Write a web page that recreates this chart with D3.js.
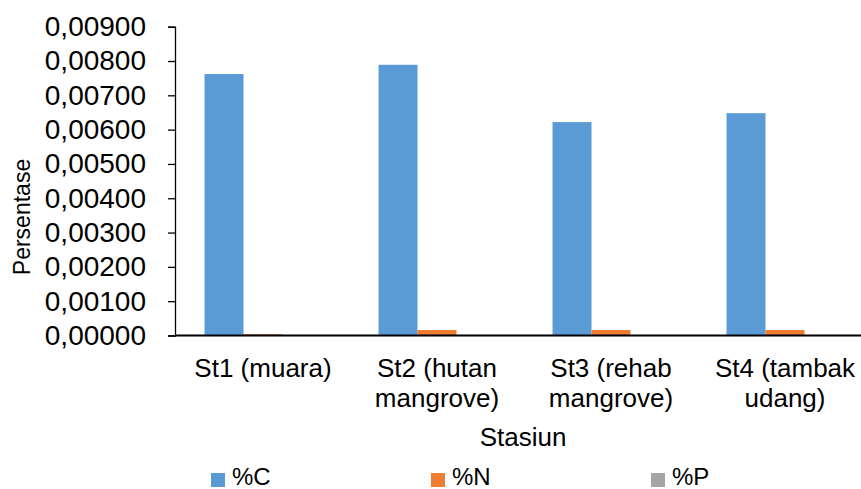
<!DOCTYPE html>
<html><head><meta charset="utf-8">
<script src="https://cdn.jsdelivr.net/npm/d3@7"></script>
<style>body{margin:0;background:#fff}svg{display:block;font-family:"Liberation Sans",Arial,sans-serif}</style>
</head><body><svg id="c" width="861" height="489"></svg>
<script>
const categories = [["St1 (muara)"], ["St2 (hutan", "mangrove)"], ["St3 (rehab", "mangrove)"], ["St4 (tambak", "udang)"]];
const seriesNames = ["%C", "%N", "%P"];
const valuesC = [0.00762, 0.00789, 0.00622, 0.00648];
const valuesN = [0.00004, 0.00016, 0.00016, 0.00016];
const valuesP = [0, 0, 0, 0];
const yTicks = [0, 0.001, 0.002, 0.003, 0.004, 0.005, 0.006, 0.007, 0.008, 0.009];
const colors = ["#5B9BD5", "#ED7D31", "#A5A5A5"];

(function () {
const svg = d3.select("#c");
const mLeft = 175, mRight = 871, mTop = 26.7, mBottom = 335.5;
const keys = categories.map((c, i) => i);
const x0 = d3.scaleBand().domain(keys).range([mLeft + 1, mRight + 1]).paddingInner(0.328).paddingOuter(0.164);
const x1 = d3.scaleBand().domain(seriesNames).range([0, x0.bandwidth()]);
const y = d3.scaleLinear().domain([0, 0.009]).range([mBottom, mTop]);
const series = [valuesC, valuesN, valuesP];

const g = svg.append("g");
seriesNames.forEach((s, si) => {
  g.selectAll(null).data(series[si]).enter().append("rect")
    .attr("x", (d, i) => x0(i) + x1(s))
    .attr("width", x1.bandwidth())
    .attr("y", d => y(d))
    .attr("height", d => y(0) - y(d))
    .attr("fill", colors[si]);
});

const yAxis = d3.axisLeft(y).tickValues(yTicks).tickSize(7).tickPadding(22)
  .tickFormat(d => d3.format(".5f")(d).replace(".", ","));
const ya = svg.append("g").attr("transform", `translate(${mLeft},0)`).call(yAxis);
ya.select(".domain").attr("stroke", "#000").attr("stroke-width", 1.3);
ya.selectAll(".tick line").attr("stroke", "#000").attr("stroke-width", 1.3);
ya.selectAll(".tick text").attr("font-size", 28).attr("fill", "#000").attr("font-family", "Liberation Sans, Arial, sans-serif");

const xAxis = d3.axisBottom(x0).tickSize(0).tickFormat("");
const xa = svg.append("g").attr("transform", `translate(0,${mBottom})`).call(xAxis);
xa.select(".domain").attr("d", `M${mLeft},0H861`).attr("stroke", "#000").attr("stroke-width", 2.2);

keys.forEach(i => {
  const cx = x0(i) + x0.bandwidth() / 2;
  const t = svg.append("text").attr("text-anchor", "middle").attr("font-size", 26).attr("fill", "#000")
    .attr("x", cx).attr("y", 377);
  categories[i].forEach((line, li) => t.append("tspan").attr("x", cx).attr("dy", li ? 30 : 0).text(line));
});

svg.append("text").attr("x", 523).attr("y", 446).attr("text-anchor", "middle").attr("font-size", 26).text("Stasiun");
svg.append("text").attr("transform", "translate(30,217) rotate(-90)").attr("text-anchor", "middle").attr("font-size", 23).text("Persentase");

const legX = [211, 431, 651];
seriesNames.forEach((s, i) => {
  svg.append("rect").attr("x", legX[i]).attr("y", 473).attr("width", 14).attr("height", 14).attr("fill", colors[i]);
  svg.append("text").attr("x", legX[i] + 21).attr("y", 485).attr("font-size", 24).text(s);
});
})();
</script></body></html>
